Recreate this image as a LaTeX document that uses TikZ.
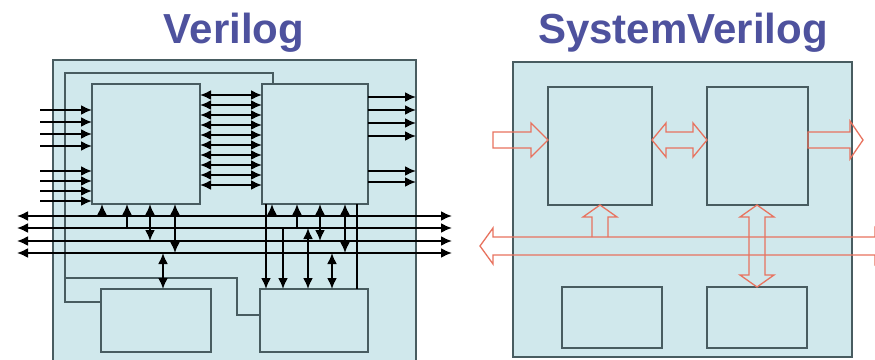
\documentclass[tikz,border=0pt]{standalone}
\usepackage{fontspec}
\newfontfamily\titlefont{Liberation Sans}
\usetikzlibrary{calc}
\usetikzlibrary{arrows.meta}
\definecolor{panelfill}{RGB}{208,232,236}
\definecolor{edgegray}{RGB}{72,92,96}
\definecolor{titleblue}{RGB}{78,82,158}
\definecolor{busred}{RGB}{232,115,95}

\begin{document}
\begin{tikzpicture}[
  x=1pt,y=-1pt,
  line join=miter,
  >={Latex[length=11pt,width=10pt]}
]
  \tikzset{
    panel/.style={draw=edgegray, fill=panelfill, line width=1.6pt},
    blk/.style={draw=edgegray, fill=panelfill, line width=1.8pt, inner sep=0pt, outer sep=0pt},
    wire/.style={line width=2pt, draw=black},
    loopline/.style={line width=1.7pt, draw=edgegray},
    fat/.style={draw=busred, line width=1.3pt},
    title/.style={font={\titlefont\bfseries\fontsize{42}{42}\selectfont}, text=titleblue, anchor=base, inner sep=0pt}
  }
  \fill[white] (0,0) rectangle (875,359);
  \useasboundingbox (0,0) rectangle (875,359);

  % Verilog side
  \node[title] (tverilog) at (234,43) {Verilog};
  \draw[panel] (53,60) rectangle (416,366);

  \node[blk, minimum width=108pt, minimum height=120pt] (va) at (146,144) {};
  \node[blk, minimum width=106pt, minimum height=120pt] (vb) at (315,144) {};
  \node[blk, minimum width=110pt, minimum height=63pt] (vc) at (156,320.5) {};
  \node[blk, minimum width=108pt, minimum height=63pt] (vd) at (314,320.5) {};

  % Feedback lines
  \coordinate (lp) at (65,73);
  \coordinate (kink) at (237,315);
  \draw[loopline] ([xshift=11pt]vb.north west) |- (lp) |- (vc.west |- 0,302);
  \draw[loopline] (lp |- 0,278) -| (kink) -- (vd.west |- kink);

  % Wire ends
  \coordinate (lin) at (40,0);
  \coordinate (lout) at (416,0);
  \coordinate (busL) at (17,0);
  \coordinate (busR) at (452,0);

  % Ports
  \foreach \y in {110,122,134,146,171,181,191,201}
    \draw[wire,->] (lin |- 0,\y) -- (va.west |- 0,\y);
  \foreach \y in {97,110,123,136,171,182}
    \draw[wire,->] (vb.east |- 0,\y) -- (lout |- 0,\y);
  \foreach \y in {95,105,...,185}
    \draw[wire,<->] (va.east |- 0,\y) -- (vb.west |- 0,\y);

  % Bus
  \foreach \y/\n in {216/1,228/2,241/3,253/4}{
    \coordinate (b\n) at (0,\y);
    \draw[wire,<->] (busL |- b\n) -- (busR |- b\n);
  }

  % Taps
  \foreach \x/\a/\b in {102/b1/va.south, 127/b2/va.south, 272/b1/vb.south, 297/b2/vb.south, 266/vb.south/vd.north, 283/b2/vd.north}
    \draw[wire,->] (\a -| \x,0) -- (\b -| \x,0);
  \foreach \x/\a/\b in {150/va.south/b3, 175/va.south/b4, 163/b4/vc.north, 320/vb.south/b3, 345/vb.south/b4, 308/b2/vd.north, 332/b4/vd.north}
    \draw[wire,<->] (\a -| \x,0) -- (\b -| \x,0);
  \draw[wire] (vb.south -| 357,0) -- (vd.north -| 357,0);

  % SystemVerilog side
  \node[title] (tsysv) at (683,43) {SystemVerilog};
  \draw[panel] (513,62) rectangle (852,357);

  \node[blk, minimum width=104pt, minimum height=118pt] (sa) at (600,146) {};
  \node[blk, minimum width=101pt, minimum height=118pt] (sb) at (757.5,146) {};
  \node[blk, minimum width=100pt, minimum height=61pt] (sc) at (612,317.5) {};
  \node[blk, minimum width=100pt, minimum height=61pt] (sd) at (757,317.5) {};

  \coordinate (sin) at (493,140);
  \coordinate (sout) at (863,140);
  \coordinate (sbusL) at (480,246);
  \coordinate (sbusR) at (888,246);
  \coordinate (bustop) at ($(sbusL)+(0,-9)$);
  \coordinate (ma) at (sa.east |- sin);
  \coordinate (mb) at (sb.west |- sin);
  \coordinate (vt) at (sd.north |- sb.south);

  % Interfaces
  \draw[fat] ($(sin)+(0,-8)$) -- ($(sa.west |- sin)+(-17,-8)$) -- ++(0,-9) -- (sa.west |- sin)
    -- ($(sa.west |- sin)+(-17,17)$) -- ++(0,-9) -- ($(sin)+(0,8)$) -- cycle;
  \draw[fat] (ma) -- ($(ma)+(14,-17)$) -- ++(0,9) -- ($(mb)+(-14,-8)$) -- ++(0,-9) -- (mb)
    -- ($(mb)+(-14,17)$) -- ++(0,-9) -- ($(ma)+(14,8)$) -- ++(0,9) -- cycle;
  \draw[fat] ($(sb.east |- sin)+(0,-8)$) -- ($(sout)+(-13,-8)$) -- ++(0,-11) -- (sout)
    -- ($(sout)+(-13,19)$) -- ++(0,-11) -- ($(sb.east |- sin)+(0,8)$) -- cycle;

  % Bus
  \draw[fat] (sbusL) -- ($(sbusL)+(13,-18)$) -- ++(0,9) -- ($(sbusR)+(-13,-9)$) -- ++(0,-9) -- (sbusR)
    -- ($(sbusR)+(-13,18)$) -- ++(0,-9) -- ($(sbusL)+(13,9)$) -- ++(0,9) -- cycle;
  \draw[fat] ($(sa.south |- bustop)+(-8,0)$) -- ($(sa.south)+(-8,12)$) -- ++(-9,0) -- (sa.south)
    -- ($(sa.south)+(17,12)$) -- ++(-9,0) -- ($(sa.south |- bustop)+(8,0)$);
  \draw[fat] (vt) -- ($(vt)+(-17,12)$) -- ++(9,0) -- ($(sd.north)+(-8,-12)$) -- ++(-9,0) -- (sd.north)
    -- ($(sd.north)+(17,-12)$) -- ++(-9,0) -- ($(vt)+(8,12)$) -- ++(9,0) -- cycle;
\end{tikzpicture}
\end{document}
